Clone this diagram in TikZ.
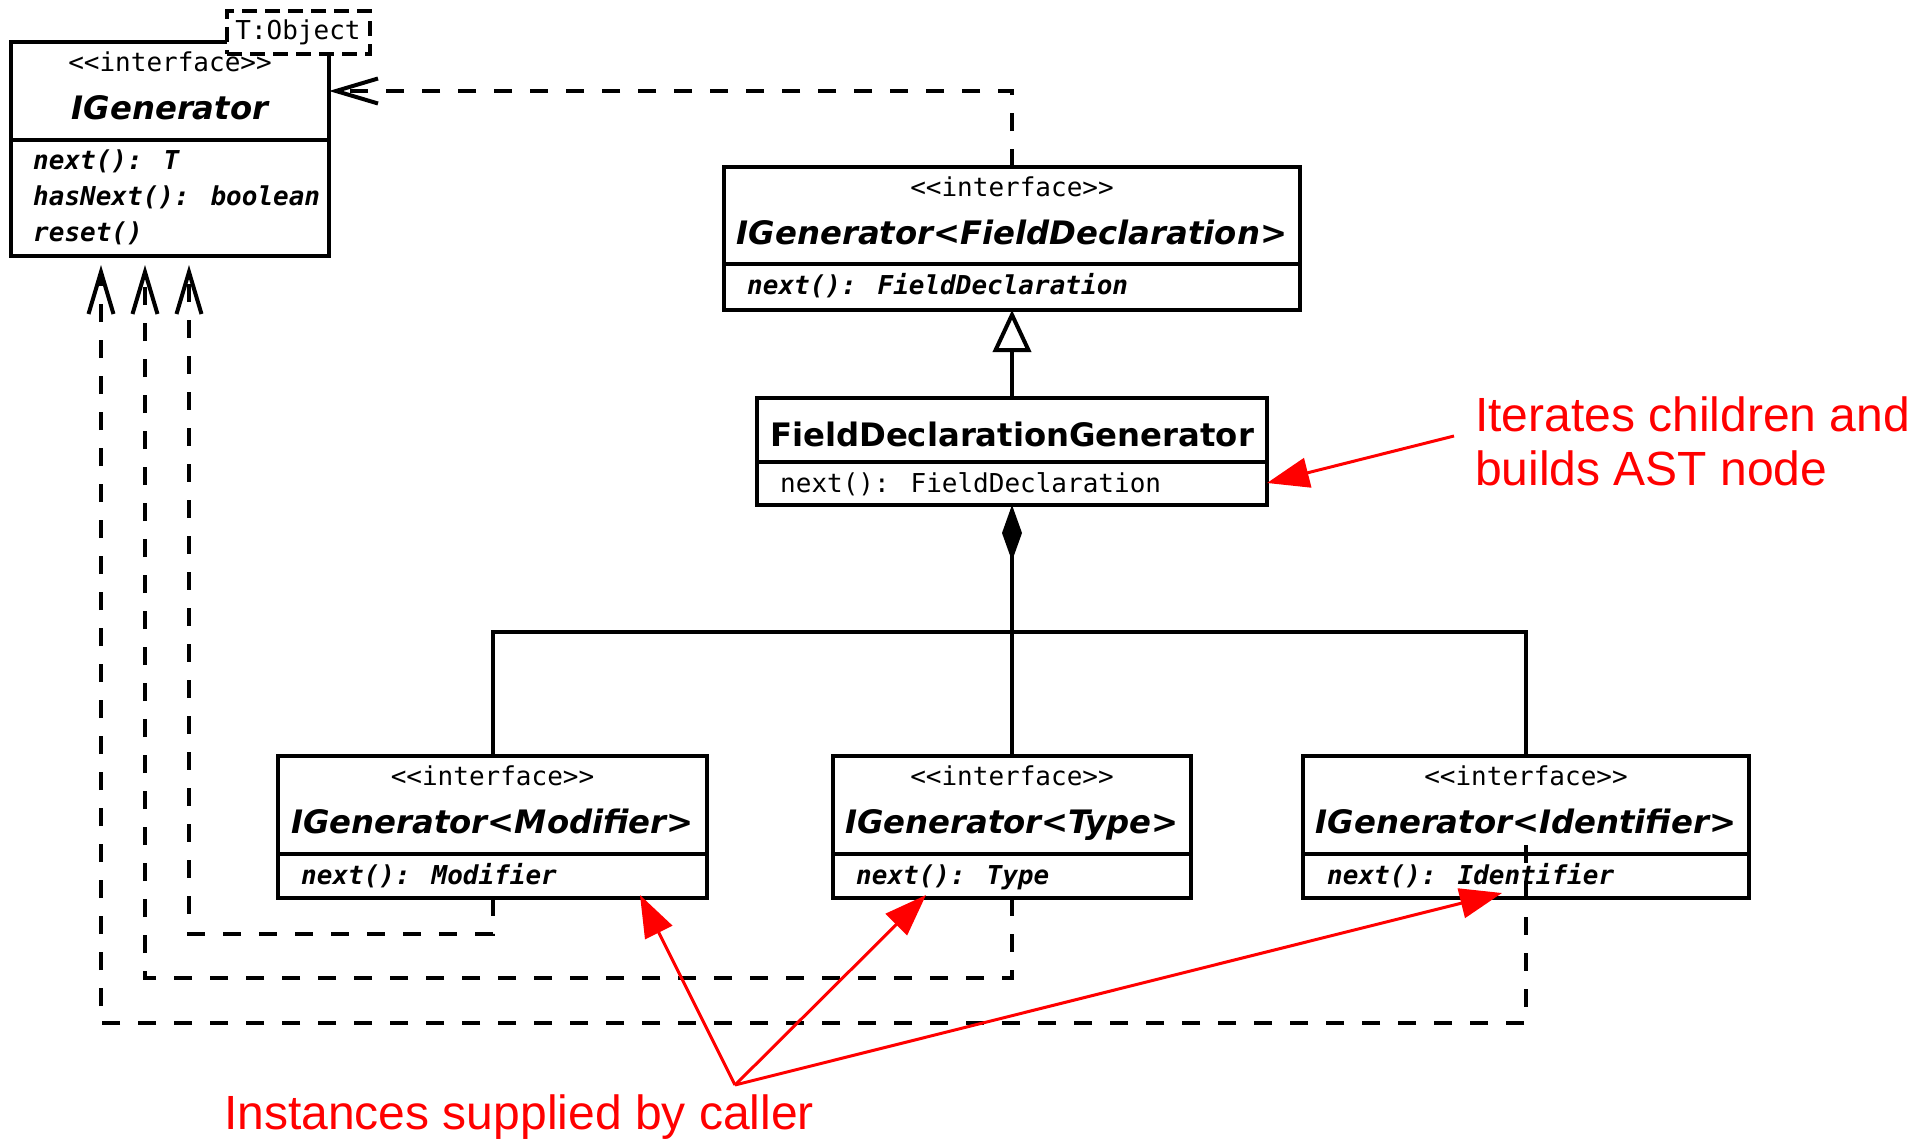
\documentclass[tikz,border=0pt]{standalone}
\usepackage{fontspec}
\usetikzlibrary{arrows.meta}
\newfontfamily\umlsans{DejaVu Sans}[BoldFont={DejaVu Sans Bold},ItalicFont={DejaVu Sans Oblique},BoldItalicFont={DejaVu Sans Bold Oblique}]
\newfontfamily\umlmono{DejaVu Sans Mono}[BoldFont={DejaVu Sans Mono Bold},ItalicFont={DejaVu Sans Mono Oblique},BoldItalicFont={DejaVu Sans Mono Bold Oblique}]
\newfontfamily\notefont{Liberation Sans}
% separate boxes keep << and >> from turning into guillemets
\newcommand\stereotype{\mbox{<}\mbox{<}interface\mbox{>}\mbox{>}}

\begin{document}
\begin{tikzpicture}[x=1pt,y=-1pt,
  umlbox/.style={draw,line width=4pt,fill=white,inner sep=0pt,outer sep=0pt,anchor=north west},
  divider/.style={line width=4pt},
  stereo/.style={font=\umlmono\fontsize{26}{30}\selectfont,anchor=base,inner sep=0pt},
  ititle/.style={font=\umlsans\bfseries\itshape\fontsize{32.3}{38}\selectfont,anchor=base,inner sep=0pt},
  ctitle/.style={font=\umlsans\bfseries\fontsize{32.3}{38}\selectfont,anchor=base,inner sep=0pt},
  imethod/.style={font=\umlmono\bfseries\itshape\fontsize{26}{30}\selectfont,anchor=base west,inner sep=0pt},
  method/.style={font=\umlmono\fontsize{26}{30}\selectfont,anchor=base west,inner sep=0pt},
  link/.style={line width=4pt},
  realize/.style={line width=4pt,dash pattern=on 18pt off 18pt,-{Straight Barb[length=42pt,width=25pt]}},
  note/.style={text=red,font=\notefont\fontsize{48}{54}\selectfont,anchor=base west,inner sep=0pt},
  notearrow/.style={draw=red,line width=3pt,-{Triangle[length=42pt,width=30pt]}}
]
\useasboundingbox (0,0) rectangle (1927,1140);

% generic interface IGenerator<T>
\node[umlbox,minimum width=318pt,minimum height=214pt] (igen) at (11,42) {};
\draw[divider] (igen.west |- 0,140) -- (igen.east |- 0,140);
\node[stereo] (igen-st) at (170,71) {\stereotype};
\node[ititle] (igen-t) at (170,119) {IGenerator};
\node[imethod] (igen-m1) at (33,169) {next(): T};
\node[imethod] (igen-m2) at (33,205) {hasNext(): boolean};
\node[imethod] (igen-m3) at (33,241) {reset()};
% template parameter
\node[umlbox,line width=3.5pt,dash pattern=on 15pt off 8pt,minimum width=143pt,minimum height=43pt] (tparam) at (227,11) {};
\node[method,anchor=base] (tparam-t) at (298,40) {T:Object};

% IGenerator<FieldDeclaration>
\node[umlbox,minimum width=576pt,minimum height=143pt] (ifd) at (724,167) {};
\draw[divider] (ifd.west |- 0,264) -- (ifd.east |- 0,264);
\node[stereo] (ifd-st) at (1012,196) {\stereotype};
\node[ititle] (ifd-t) at (1012,244) {IGenerator<FieldDeclaration>};
\node[imethod] (ifd-m1) at (747,294) {next(): FieldDeclaration};

% FieldDeclarationGenerator
\node[umlbox,minimum width=510pt,minimum height=107pt] (fdg) at (757,398) {};
\draw[divider] (fdg.west |- 0,462) -- (fdg.east |- 0,462);
\node[ctitle] (fdg-t) at (1012,446) {FieldDeclarationGenerator};
\node[method] (fdg-m1) at (780,492) {next(): FieldDeclaration};

% child generators
\node[umlbox,minimum width=429pt,minimum height=142pt] (mod) at (278,756) {};
\draw[divider] (mod.west |- 0,854) -- (mod.east |- 0,854);
\node[stereo] (mod-st) at (492.5,785) {\stereotype};
\node[ititle] (mod-t) at (492.5,833) {IGenerator<Modifier>};
\node[imethod] (mod-m1) at (301,884) {next(): Modifier};

\node[umlbox,minimum width=358pt,minimum height=142pt] (typ) at (833,756) {};
\draw[divider] (typ.west |- 0,854) -- (typ.east |- 0,854);
\node[stereo] (typ-st) at (1012,785) {\stereotype};
\node[ititle] (typ-t) at (1012,833) {IGenerator<Type>};
\node[imethod] (typ-m1) at (856,884) {next(): Type};

\node[umlbox,minimum width=446pt,minimum height=142pt] (ident) at (1303,756) {};
\draw[divider] (ident.west |- 0,854) -- (ident.east |- 0,854);
\node[stereo] (ident-st) at (1526,785) {\stereotype};
\node[ititle] (ident-t) at (1526,833) {IGenerator<Identifier>};
\node[imethod] (ident-m1) at (1327,884) {next(): Identifier};

% generalization and composition
\draw[link,-{Triangle[length=42pt,width=38pt,fill=white]}] (fdg.north) -- (ifd.south);
\coordinate (bus) at (1012,632);
\draw[link,{Diamond[length=56pt,width=20pt]}-] (fdg.south) -- (bus);
\draw[link] (mod.north) |- (bus) -| (ident.north);
\draw[link] (bus) -- (typ.north);

% realizations of IGenerator<T>
\coordinate (tipM) at (189,265);
\coordinate (tipT) at (145,265);
\coordinate (tipI) at (101,265);
\draw[realize] (mod.south) -- (mod.south |- 0,934) -| (tipM);
\draw[realize] (typ.south) -- (typ.south |- 0,978) -| (tipT);
\draw[realize] (ident.center |- 0,845) -- (ident.center |- 0,1023) -| (tipI);
\draw[realize] (ifd.north) |- (igen.east |- 0,91);

% annotations
\node[note] (iter1) at (1475,431) {Iterates children and};
\node[note] (iter2) at (1475,485) {builds AST node};
\coordinate (iterfrom) at (1454,436);
\draw[notearrow] (iterfrom) -- (fdg.east |- 0,483);

\node[note] (callernote) at (224,1129) {Instances supplied by caller};
\coordinate (caller) at (735,1085);
\coordinate (hitM) at (640,895);
\coordinate (hitT) at (926,895);
\coordinate (hitI) at (1502,893);
\draw[notearrow] (caller) -- (hitM);
\draw[notearrow] (caller) -- (hitT);
\draw[notearrow] (caller) -- (hitI);
\end{tikzpicture}
\end{document}
